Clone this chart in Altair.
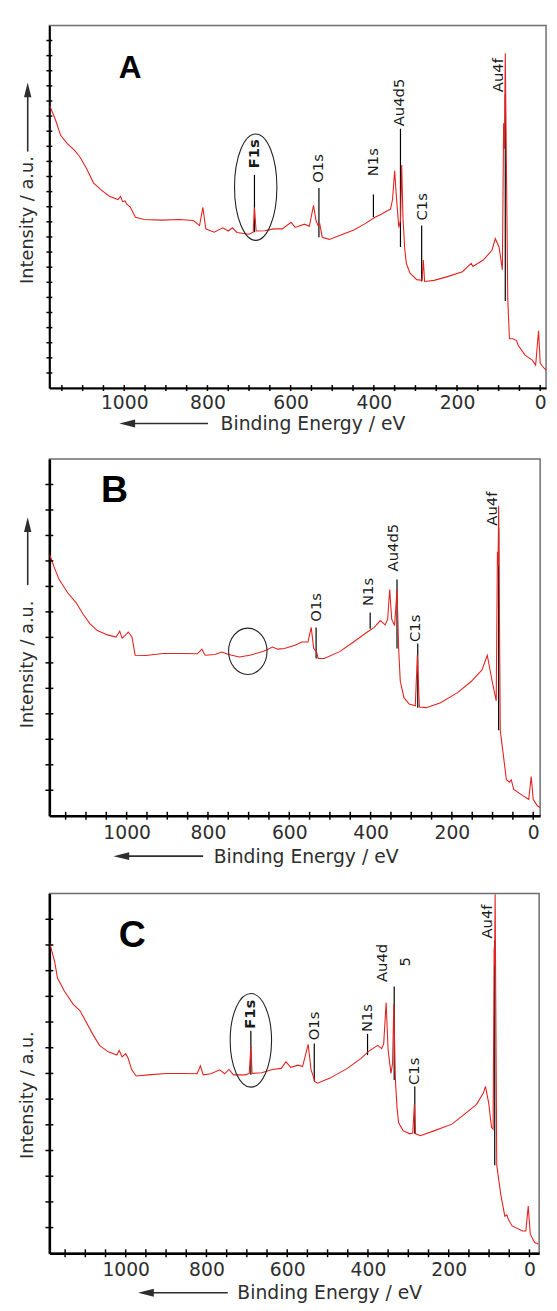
import altair as alt
import pandas as pd

FONT = "DejaVu Sans"
RED = "#e3231f"
INK = "#2e2e2e"

# ---------------- Panel A ----------------
A_ev = [1179, 1166, 1153, 1137, 1120, 1107, 1091, 1074, 1057, 1036, 1015, 1009, 1004, 998, 994, 986,
        973, 952, 910, 868, 834, 819, 811, 804, 784, 763, 750, 740, 729, 700, 690, 687, 683, 662, 641,
        620, 599, 589, 567, 555, 545, 539, 534, 530, 524, 507, 473, 448, 423, 397, 381, 368, 360, 355,
        350, 345, 340, 336, 333, 330, 326, 322, 313, 297, 284, 281, 278, 255, 221, 187, 166, 162, 137,
        116, 108, 99, 91, 88, 86, 84, 78, 74, 66, 57, 53, 36, 19, 11, 4, 0, -10, -14]
A_int = [77.8, 74.2, 69.7, 67.4, 65.6, 63.8, 60.6, 56.6, 54.8, 52.9, 52.0, 52.9, 51.4, 51.6, 50.7, 50.0,
         47.1, 46.5, 46.3, 46.5, 46.2, 44.8, 49.8, 43.9, 43.0, 44.2, 43.3, 44.2, 42.9, 42.4, 43.0, 49.8,
         43.3, 43.4, 43.9, 43.9, 45.7, 44.3, 45.2, 44.6, 50.4, 46.2, 44.8, 45.2, 41.6, 41.0, 42.5, 43.6,
         45.2, 47.1, 48.0, 48.9, 49.3, 52.0, 59.9, 51.5, 44.3, 46.2, 61.5, 47.1, 38.9, 34.4, 31.7, 29.9,
         29.7, 35.3, 29.4, 29.7, 30.8, 32.1, 34.4, 33.5, 35.3, 38.0, 41.2, 38.9, 32.6, 73.0, 66.0, 92.3,
         24.4, 13.6, 13.6, 13.1, 11.8, 9.0, 7.7, 6.3, 15.8, 6.8, 5.4, 5.0]
A_lab_text = ["F1s", "O1s", "N1s", "Au4d5", "C1s", "Au4f"]
A_lab_ev = [687, 534, 402, 339, 284, 101]
A_lab_int = [60.6, 56.6, 58.4, 72.2, 46.2, 81.6]
A_lab_bold = [True, False, False, False, False, False]
A_lead_ev = [687, 532, 401, 336, 285, 84]
A_lead_top = [58.8, 55.2, 53.4, 71.5, 44.8, 81.0]
A_lead_bot = [43.0, 41.6, 47.1, 38.9, 29.4, 24.0]
A_ring = [684, 55.4]

# ---------------- Panel B ----------------
B_ev = [1189, 1179, 1166, 1145, 1124, 1107, 1090, 1072, 1047, 1026, 1017, 1011, 1003, 996, 987, 979,
        953, 910, 868, 826, 815, 807, 783, 766, 749, 723, 697, 663, 641, 629, 612, 586, 569, 554, 546,
        540, 533, 529, 514, 476, 442, 408, 391, 376, 364, 358, 353, 348, 341, 335, 331, 327, 318, 305,
        290, 285, 280, 263, 228, 186, 152, 126, 113, 101, 91, 88, 86.5, 85, 81, 75, 66, 58, 54, 48, 24,
        11, 5, 0, -10, -17]
B_int = [73.1, 69.9, 66.2, 62.5, 59.7, 56.5, 53.8, 51.9, 50.7, 50.1, 51.7, 49.8, 50.6, 51.5, 50.1, 45.0,
         44.9, 45.5, 45.5, 45.4, 46.7, 45.0, 45.2, 45.9, 45.2, 44.5, 45.0, 46.1, 47.3, 46.7, 46.9, 47.8,
         48.7, 48.7, 52.8, 46.9, 46.0, 44.1, 44.1, 46.0, 48.7, 51.5, 52.8, 54.7, 53.5, 55.1, 63.4, 55.1,
         53.3, 63.4, 46.9, 37.7, 33.1, 31.3, 30.8, 45.0, 30.5, 30.3, 31.7, 34.5, 37.7, 40.9, 45.0, 37.7,
         32.2, 74.0, 70.0, 86.9, 23.9, 18.4, 10.1, 9.4, 10.1, 7.4, 5.5, 4.6, 11.0, 4.6, 2.8, 2.3]
B_lab_text = ["O1s", "N1s", "Au4d5", "C1s", "Au4f"]
B_lab_ev = [535, 407, 344, 290, 102]
B_lab_int = [54.4, 58.8, 68.5, 48.7, 81.3]
B_lab_bold = [False, False, False, False, False]
B_lead_ev = [534, 401, 335, 284, 85]
B_lead_top = [52.8, 57.0, 66.2, 48.3, 80.5]
B_lead_bot = [44.1, 52.4, 46.9, 30.3, 24.0]
B_ring = [702, 46.1]

# ---------------- Panel C ----------------
C_ev = [1188, 1176, 1169, 1152, 1130, 1113, 1100, 1082, 1065, 1043, 1022, 1016, 1009, 1000, 994, 985,
        974, 944, 900, 857, 823, 815, 808, 789, 767, 755, 744, 733, 703, 694, 690, 687, 663, 637, 615,
        603, 591, 573, 562, 548, 541, 535, 532, 525, 494, 451, 417, 400, 376, 366, 361, 355, 350, 343,
        339, 336, 332, 328, 324, 313, 296, 289, 285, 282, 270, 235, 192, 166, 131, 114, 109, 101, 94,
        90, 87.5, 86.5, 85, 81, 71, 61, 56, 52, 43, 17, 9, 3, -2, -13, -22]
C_int = [86.1, 81.1, 76.5, 72.9, 69.2, 67.4, 64.7, 61.0, 57.8, 56.0, 55.1, 56.4, 54.6, 55.5, 54.2, 51.0,
         49.3, 49.6, 50.0, 50.0, 49.9, 52.1, 49.6, 49.9, 51.0, 49.9, 51.1, 49.6, 49.6, 50.0, 57.5, 50.0,
         50.2, 51.1, 51.4, 53.2, 51.7, 52.3, 51.9, 58.1, 51.0, 49.1, 47.8, 47.3, 48.7, 51.4, 54.2, 56.0,
         57.8, 56.9, 58.3, 69.7, 56.4, 50.0, 52.8, 69.2, 48.2, 40.5, 36.3, 34.1, 33.2, 33.4, 41.4, 33.2,
         32.7, 34.1, 35.9, 38.2, 41.4, 44.6, 46.4, 41.8, 35.0, 34.5, 85.0, 80.0, 99.8, 24.5, 16.3, 10.3,
         10.7, 9.4, 7.6, 6.2, 6.2, 13.1, 5.3, 3.0, 2.6]
C_lab_text = ["F1s", "O1s", "N1s", "Au4d", "5", "C1s", "Au4f"]
C_lab_ev = [691, 534, 403, 364, 309, 286, 104]
C_lab_int = [62.4, 59.2, 61.5, 75.4, 79.7, 46.8, 87.5]
C_lab_bold = [True, False, False, False, False, False, False]
C_lead_ev = [690, 533, 401, 335, 284, 86]
C_lead_top = [61.9, 58.3, 61.0, 74.2, 46.4, 87.0]
C_lead_bot = [49.6, 47.8, 55.1, 48.2, 33.2, 24.5]
C_ring = [690, 59.2]

X_TICKS = list(range(0, 1151, 50))
X_LABELS = [0, 200, 400, 600, 800, 1000]


def ellipse_path(ratio):
    k = 0.5523
    r = ratio
    return (f"M 0 -1 C {k*r:.4f} -1 {r:.4f} {-k:.4f} {r:.4f} 0 "
            f"C {r:.4f} {k:.4f} {k*r:.4f} 1 0 1 "
            f"C {-k*r:.4f} 1 {-r:.4f} {k:.4f} {-r:.4f} 0 "
            f"C {-r:.4f} {-k:.4f} {-k*r:.4f} -1 0 -1 Z")


UP_ARROW = "M 0 -1 L 0.5 1 L -0.5 1 Z"
LEFT_ARROW = "M -1 0 L 1 -0.5 L 1 0.5 Z"
ONE = pd.DataFrame({"k": [0]})


def panel(ev, inten, xdom, w, h, nyt, tick_len, dom_w, lab_text, lab_ev, lab_int, lab_bold,
          lead_ev, lead_top, lead_bot, ring, ring_w, ring_h, letter, letter_x, letter_y, letter_fs,
          ytitle_y, yarrow, xtitle_x, xtitle_dy, xarrow, label_pad):
    xs = alt.Scale(domain=xdom, nice=False, zero=False)
    ys = alt.Scale(domain=[0, 100], nice=False, zero=False)

    spec_df = pd.DataFrame({"ev": ev, "int": inten})
    lab_df = pd.DataFrame({"ev": lab_ev, "int": lab_int, "t": lab_text, "bold": lab_bold})
    lead_df = pd.DataFrame({"ev": lead_ev, "int": lead_top, "int2": lead_bot})
    ring_df = pd.DataFrame({"ev": [ring[0]], "int": [ring[1]]})
    xt_df = pd.DataFrame({"ev": X_TICKS})
    yt_df = pd.DataFrame({"int": [i * 100.0 / nyt for i in range(1, nyt)]})

    x_axis = alt.Axis(values=X_LABELS, format="d", ticks=False, grid=False, labelFont=FONT,
                      labelFontSize=19, labelColor=INK, labelPadding=label_pad, domainColor="black",
                      domainWidth=dom_w, title="Binding Energy / eV", titleFont=FONT, titleFontSize=19,
                      titleFontWeight="normal", titleColor=INK, titleX=xtitle_x, titleY=xtitle_dy,
                      titleAlign="center", titleBaseline="middle", labelFlush=False)
    y_axis = alt.Axis(labels=False, ticks=False, grid=False, domainColor="black", domainWidth=dom_w,
                      title="Intensity / a.u.", titleFont=FONT, titleFontSize=18,
                      titleFontWeight="normal", titleColor=INK, titleX=-22, titleY=ytitle_y,
                      titleAngle=270, titleAlign="center", titleBaseline="middle")

    X = alt.X("ev:Q", scale=xs, axis=x_axis, title="Binding Energy / eV")
    Y = alt.Y("int:Q", scale=ys, axis=y_axis, title="Intensity / a.u.")

    leaders = alt.Chart(lead_df).mark_rule(color="black", strokeWidth=1.2).encode(
        x=X, y=Y, y2="int2:Q")
    spectrum = alt.Chart(spec_df).mark_line(color=RED, strokeWidth=1.1).encode(x=X, y=Y)
    xticks = alt.Chart(xt_df).mark_tick(size=tick_len, thickness=1.5, color="black", opacity=1).encode(
        x=X, y=alt.value(h))
    yticks = alt.Chart(yt_df).mark_tick(size=tick_len, thickness=1.5, color="black", opacity=1).encode(
        y=Y, x=alt.value(0))
    labels_n = alt.Chart(lab_df).transform_filter("!datum.bold").mark_text(
        angle=270, align="left", baseline="middle", font=FONT, fontSize=15, color="#1a1a1a").encode(
        x=X, y=Y, text="t:N")
    labels_b = alt.Chart(lab_df).transform_filter("datum.bold").mark_text(
        angle=270, align="left", baseline="middle", font=FONT, fontSize=15, fontWeight="bold",
        color="#1a1a1a").encode(x=X, y=Y, text="t:N")
    ring_mark = alt.Chart(ring_df).mark_point(
        shape=ellipse_path(ring_w / ring_h), size=ring_h * ring_h, filled=False, color="#222",
        strokeWidth=1.1, opacity=1).encode(x=X, y=Y)
    letter_mark = alt.Chart(ONE).mark_text(
        font="Liberation Sans", fontWeight="bold", fontSize=letter_fs, align="center",
        baseline="alphabetic", color="black").encode(
        x=alt.value(letter_x), y=alt.value(letter_y), text=alt.value(letter))

    layers = [leaders, spectrum, xticks, yticks, labels_n, labels_b, ring_mark, letter_mark]

    # x-title arrow
    tip, end, ay = xarrow
    layers.append(alt.Chart(ONE).mark_rule(color=INK, strokeWidth=1.6).encode(
        x=alt.value(tip + 14), x2=alt.value(end), y=alt.value(ay)))
    layers.append(alt.Chart(ONE).mark_point(shape=LEFT_ARROW, size=256, filled=True, color=INK,
                                            opacity=1, strokeWidth=0).encode(
        x=alt.value(tip + 8), y=alt.value(ay)))
    # y-title arrow
    if yarrow is not None:
        ytip, ybot = yarrow
        layers.append(alt.Chart(ONE).mark_rule(color=INK, strokeWidth=1.6).encode(
            x=alt.value(-22), y=alt.value(ytip + 13), y2=alt.value(ybot)))
        layers.append(alt.Chart(ONE).mark_point(shape=UP_ARROW, size=225, filled=True, color=INK,
                                                opacity=1, strokeWidth=0).encode(
            x=alt.value(-22), y=alt.value(ytip + 7.5)))

    return alt.layer(*layers).properties(width=w, height=h)


pA = panel(A_ev, A_int, [1180, -14], 504, 368, 24, 6, 2, A_lab_text, A_lab_ev, A_lab_int, A_lab_bold,
           A_lead_ev, A_lead_top, A_lead_bot, A_ring, 43, 108, "A", 82, 53, 32,
           197, (58, 128), 267, 36, (71, 161, 404), 6)
pB = panel(B_ev, B_int, [1190, -17], 498, 362, 14, 8, 2.5, B_lab_text, B_lab_ev, B_lab_int, B_lab_bold,
           B_lead_ev, B_lead_top, B_lead_bot, B_ring, 39, 47, "B", 66, 44, 38,
           208, (59, 128), 260, 41, (65, 156, 403), 8)
pC = panel(C_ev, C_int, [1189, -24], 497, 365, 14, 8, 2.5, C_lab_text, C_lab_ev, C_lab_int, C_lab_bold,
           C_lead_ev, C_lead_top, C_lead_bot, C_ring, 42, 95, "C", 84, 54, 38,
           204, None, 284, 40, (90, 181, 405), 8)

chart = alt.vconcat(pA, pB, pC, spacing=24, background="white").properties(
    padding={"left": 10, "top": 7, "right": 0, "bottom": 5}
).configure_view(stroke="#6e6e6e", strokeWidth=1.5)

chart.save("out.html", embed_options={"renderer": "svg", "actions": False})
